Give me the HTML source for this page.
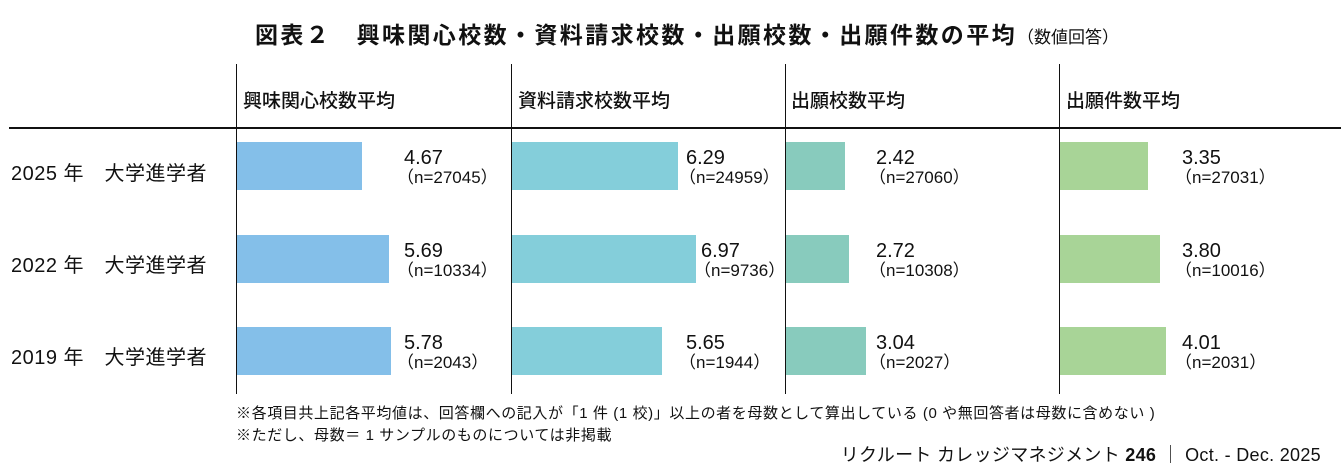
<!DOCTYPE html>
<html><head><meta charset="utf-8"><style>
body{margin:0;width:1341px;height:473px;background:#fff;position:relative;overflow:hidden;font-family:"Liberation Sans","Noto Sans CJK JP",sans-serif;color:#111}
.a{position:absolute;white-space:nowrap}
.v{position:absolute;width:1px;background:#111;top:64px;height:330px}
.b{position:absolute;height:48px}
.val{position:absolute;font-size:20px;line-height:20px}
.val small{display:block;font-size:17px;line-height:20px;margin-left:-7px}
.row{font-size:20px;letter-spacing:0.5px}
.h{font-size:19px;top:86px;font-weight:500}
</style></head><body>
<div class="a" style="left:255px;top:16px;font-size:23px;font-weight:bold;letter-spacing:2.4px">図表２　興味関心校数・資料請求校数・出願校数・出願件数の平均<span style="font-size:17px;font-weight:normal;letter-spacing:0">（数値回答）</span></div>
<div class="v" style="left:236px"></div><div class="v" style="left:511px"></div><div class="v" style="left:785px"></div><div class="v" style="left:1059px"></div>
<div class="a" style="left:9px;top:127px;width:1332px;height:2px;background:#111"></div>
<div class="a h" style="left:243px">興味関心校数平均</div>
<div class="a h" style="left:518px">資料請求校数平均</div>
<div class="a h" style="left:791px">出願校数平均</div>
<div class="a h" style="left:1066px">出願件数平均</div>

<div class="a row" style="left:11px;top:157px">2025 年　大学進学者</div>
<div class="a row" style="left:11px;top:249px">2022 年　大学進学者</div>
<div class="a row" style="left:11px;top:341px">2019 年　大学進学者</div>

<div class="b" style="left:237px;top:142px;width:125px;background:#84bfe9"></div>
<div class="b" style="left:237px;top:235px;width:152px;background:#84bfe9"></div>
<div class="b" style="left:237px;top:327px;width:154px;background:#84bfe9"></div>
<div class="b" style="left:512px;top:142px;width:166px;background:#84ceda"></div>
<div class="b" style="left:512px;top:235px;width:184px;background:#84ceda"></div>
<div class="b" style="left:512px;top:327px;width:150px;background:#84ceda"></div>
<div class="b" style="left:786px;top:142px;width:59px;background:#88cbbd"></div>
<div class="b" style="left:786px;top:235px;width:63px;background:#88cbbd"></div>
<div class="b" style="left:786px;top:327px;width:80px;background:#88cbbd"></div>
<div class="b" style="left:1060px;top:142px;width:88px;background:#a8d497"></div>
<div class="b" style="left:1060px;top:235px;width:100px;background:#a8d497"></div>
<div class="b" style="left:1060px;top:327px;width:106px;background:#a8d497"></div>

<div class="val" style="left:404px;top:148px">4.67<small>（n=27045）</small></div>
<div class="val" style="left:404px;top:241px">5.69<small>（n=10334）</small></div>
<div class="val" style="left:404px;top:333px">5.78<small>（n=2043）</small></div>
<div class="val" style="left:686px;top:148px">6.29<small>（n=24959）</small></div>
<div class="val" style="left:701px;top:241px">6.97<small>（n=9736）</small></div>
<div class="val" style="left:686px;top:333px">5.65<small>（n=1944）</small></div>
<div class="val" style="left:876px;top:148px">2.42<small>（n=27060）</small></div>
<div class="val" style="left:876px;top:241px">2.72<small>（n=10308）</small></div>
<div class="val" style="left:876px;top:333px">3.04<small>（n=2027）</small></div>
<div class="val" style="left:1182px;top:148px">3.35<small>（n=27031）</small></div>
<div class="val" style="left:1182px;top:241px">3.80<small>（n=10016）</small></div>
<div class="val" style="left:1182px;top:333px">4.01<small>（n=2031）</small></div>

<div class="a" style="left:236px;top:402px;font-size:15px;letter-spacing:0.6px">※各項目共上記各平均値は、回答欄への記入が「1 件 (1 校)」以上の者を母数として算出している (0 や無回答者は母数に含めない )</div>
<div class="a" style="left:236px;top:424px;font-size:15px;letter-spacing:0.6px">※ただし、母数＝ 1 サンプルのものについては非掲載</div>
<div class="a" style="right:20px;top:441px;font-size:18px;letter-spacing:0.3px">リクルート カレッジマネジメント <b>246</b> ｜ Oct. - Dec. 2025</div>
</body></html>
